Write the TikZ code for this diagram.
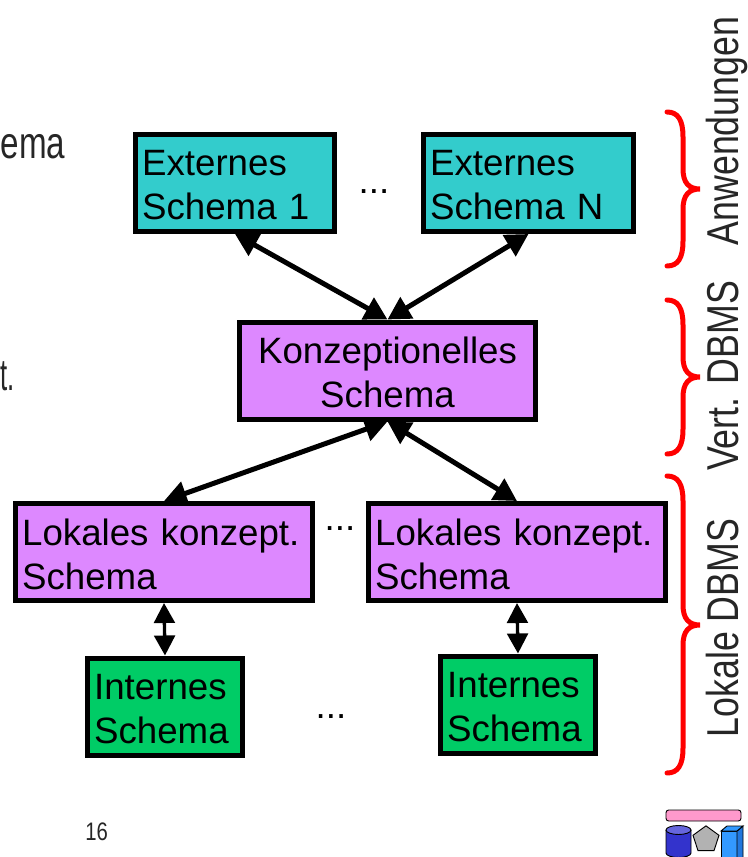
\documentclass[tikz,border=0pt]{standalone}
\usepackage{fontspec}
\setmainfont[WordSpace=0.75]{Liberation Sans}
\newfontfamily\narrowfont[FakeStretch=0.8]{Liberation Sans}
\usetikzlibrary{shapes.geometric, arrows.meta}
\definecolor{extfill}{HTML}{33CCCC}
\definecolor{konzfill}{HTML}{DD88FF}
\definecolor{intfill}{HTML}{00CC66}
\definecolor{logopink}{HTML}{FF99CC}
\definecolor{logoblue}{HTML}{3333CC}
\definecolor{logotop}{HTML}{6666DD}
\definecolor{logogray}{HTML}{B2B2B2}
\definecolor{logocube}{HTML}{3399FF}
\definecolor{logoside}{HTML}{2277DD}
\newcommand{\curly}[3]{\draw[curlyline] (667, #1) .. controls (678, #1) and (683, #1+8) .. (683, #1+25) -- (683, #2-20) .. controls (683, #2-6) and (689, #2) .. (700, #2) .. controls (689, #2) and (683, #2+6) .. (683, #2+20) -- (683, #3-25) .. controls (683, #3-8) and (678, #3) .. (667, #3);}
\tikzset{
 schema/.style={draw, line width=3.75pt, inner sep=5pt, minimum height=72.75pt, align=left, text depth=30pt, font=\fontsize{27.5}{33}\selectfont},
 dots/.style={font=\fontsize{27.5}{33}\selectfont, inner sep=0pt},
 side/.style={rotate=90, anchor=base, inner sep=0pt, text=black!85, font=\fontsize{33.5}{40}\narrowfont},
 left text/.style={anchor=base west, inner sep=0pt, text=black!85, font=\fontsize{33.5}{40}\narrowfont},
 big arrow/.style={line width=3.75pt, {Triangle[length=17pt, width=18pt]}-{Triangle[length=17pt, width=18pt]}},
 small arrow/.style={line width=2.5pt, {Triangle[length=15pt, width=15.5pt]}-{Triangle[length=15pt, width=15.5pt]}},
 curlyline/.style={red, line width=3.75pt, line cap=round},
}
\begin{document}
\begin{tikzpicture}[x=0.75pt, y=-0.75pt]
 \useasboundingbox (0, 0) rectangle (748, 857);
 \node[schema, fill=extfill, text width=139.25pt] (Ext1) at (235, 183) {Externes\\Schema 1};
 \node[schema, fill=extfill, text width=147.5pt] (ExtN) at (528.5, 183) {Externes\\Schema N};
 \node[schema, fill=konzfill, text width=212pt, align=center] (Konz) at (387.5, 370.5) {Konzeptionelles\\Schema};
 \node[schema, fill=konzfill, text width=212.75pt] (Lok1) at (164, 552) {Lokales konzept.\\Schema};
 \node[schema, fill=konzfill, text width=212.75pt] (Lok2) at (517, 552) {Lokales konzept.\\Schema};
 \node[schema, fill=intfill, text width=106.25pt] (Int1) at (165, 706.5) {Internes\\Schema};
 \node[schema, fill=intfill, text width=106.25pt] (Int2) at (518, 704.5) {Internes\\Schema};
 \node[dots] (DotsExt) at (374, 192) {...};
 \node[dots] (DotsLok) at (340, 529) {...};
 \node[dots] (DotsInt) at (331, 717) {...};
 \draw[big arrow] (Ext1.south) -- (Konz.north);
 \draw[big arrow] (ExtN.south) -- (Konz.north);
 \draw[big arrow] (Konz.south) -- (Lok1.north);
 \draw[big arrow] (Konz.south) -- (Lok2.north);
 \draw[small arrow] (Lok1.south) -- (Int1.north);
 \draw[small arrow] (Lok2.south) -- (Int2.north);
 % braces
 \curly{112}{189}{266}
 \curly{300}{377}{454}
 \curly{476}{625}{773}
 \node[side] (Anw) at (738, 131) {Anwendungen};
 \node[side] (Vert) at (738, 376) {Vert. DBMS};
 \node[side] (Lokal) at (738, 628) {Lokale DBMS};
 \node[left text, xscale=0.93, transform shape] (Ema) at (0.5, 158) {ema};
 \node[left text, xscale=0.72, transform shape] (Punkt) at (0.5, 390) {t.};
 \node[left text, font=\fontsize{19}{23}\narrowfont] (Seite) at (85, 840) {16};
 % logo
 \draw[fill=logopink, line width=.7pt, rounded corners=2pt] (666, 810) rectangle (741, 821);
 \draw[fill=logoblue, line width=.7pt] (666, 830) -- (666, 853) arc[start angle=180, end angle=360, x radius=12.5, y radius=-4.5] -- (691, 830);
 \draw[fill=logotop, line width=.7pt] (678.5, 830) ellipse[x radius=12.5, y radius=4.5];
 \node[regular polygon, regular polygon sides=5, draw, fill=logogray, line width=.7pt, minimum size=20.5pt, inner sep=0pt] (Penta) at (706, 839.5) {};
 \draw[fill=logocube, line width=.7pt] (721, 831) rectangle (737, 860);
 \draw[fill=logoside, line width=.7pt] (737, 831) -- (743, 826) -- (743, 860) -- (737, 860) -- cycle;
 \draw[fill=logocube, line width=.7pt] (721, 831) -- (727, 826) -- (743, 826) -- (737, 831) -- cycle;
\end{tikzpicture}
\end{document}
